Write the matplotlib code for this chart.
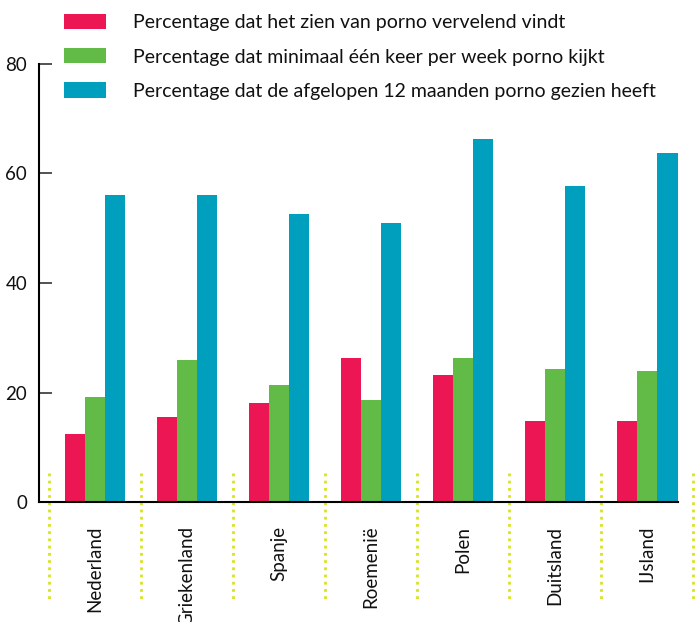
import matplotlib
matplotlib.use("Agg")
import matplotlib.pyplot as plt
from matplotlib.patches import Patch
import numpy as np

plt.rcParams['font.family'] = ['Lato', 'DejaVu Sans']

countries = ["Nederland", "Griekenland", "Spanje", "Roemenië", "Polen", "Duitsland", "IJsland"]
vervelend = [12.4, 15.5, 18.1, 26.3, 23.2, 14.8, 14.8]
wekelijks = [19.2, 25.9, 21.4, 18.6, 26.3, 24.3, 23.9]
jaar = [56.1, 56.1, 52.6, 51.0, 66.3, 57.7, 63.7]
series_labels = [
    "Percentage dat het zien van porno vervelend vindt",
    "Percentage dat minimaal één keer per week porno kijkt",
    "Percentage dat de afgelopen 12 maanden porno gezien heeft",
]
colors = ["#ec1654", "#62bb46", "#009fbd"]
yticks = [0, 20, 40, 60, 80]

W, H = 696, 622
fig = plt.figure(figsize=(W / 100, H / 100), dpi=100)
ax = fig.add_axes([39 / W, 1 - 502 / H, (695 - 39) / W, (502 - 64) / H])

x = np.arange(len(countries))
bw = 0.22
for k, (vals, c) in enumerate(zip([vervelend, wekelijks, jaar], colors)):
    ax.bar(x + (k - 1) * bw, vals, width=bw, color=c, linewidth=0)

xmin, xmax = -0.609, 6.52
ax.set_xlim(xmin, xmax)
ax.set_ylim(0, 80)

for s in ['top', 'right']:
    ax.spines[s].set_visible(False)
ax.spines['left'].set_linewidth(1.5)
ax.spines['bottom'].set_linewidth(1.5)
ax.spines['bottom'].set_bounds(xmin, x[-1] + 1.5 * bw)

ax.set_yticks(yticks)
ax.tick_params(axis='y', direction='in', length=9.4, width=1.3, color='#444444',
               labelsize=13.5, pad=8.5, labelcolor='#111111')
ax.set_xticks(x)
ax.set_xticklabels(countries, rotation=90, va='top', ha='center')
ax.tick_params(axis='x', length=0, labelsize=13.5, pad=17, labelcolor='#111111')

# dotted separators
sep = np.arange(len(countries) + 1) - 0.5
ax.vlines(sep, 5.3, -18.4, colors='#d8e31c', linestyles=(0, (1, 1.6)), linewidth=2, clip_on=False)

handles = [Patch(facecolor=c, edgecolor='none') for c in colors]
fig.legend(handles, series_labels, loc='upper left', bbox_to_anchor=(64 / W, 1 - 14 / H),
           frameon=False, fontsize=14, handlelength=2.18, handleheight=0.82,
           handletextpad=1.36, labelspacing=0.87, borderaxespad=0, borderpad=0,
           labelcolor='#111111')

fig.savefig("out.png", dpi=100)
